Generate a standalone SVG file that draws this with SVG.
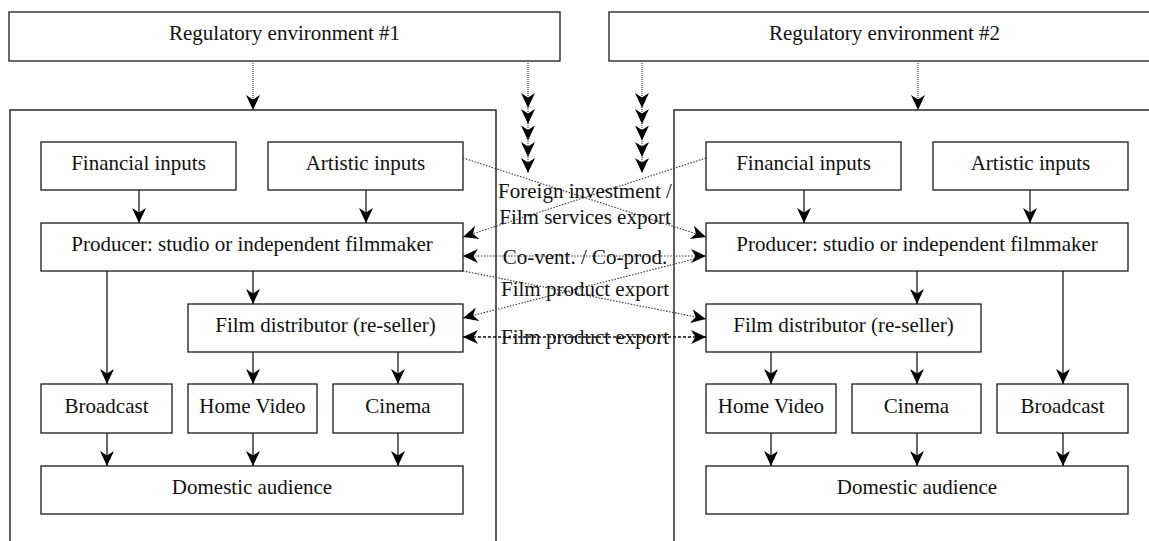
<svg xmlns="http://www.w3.org/2000/svg" width="1149" height="541" viewBox="0 0 1149 541">
  <style>
    .box { fill: #fff; stroke: #1a1a1a; stroke-width: 1.3; }
    .frame { fill: none; stroke: #2a2a2a; stroke-width: 1.5; }
    .lbl { font-family: 'Liberation Serif', 'Times New Roman', Times, 'DejaVu Serif', serif; font-size: 21px; fill: #111; text-anchor: middle; }
    .flow { fill: none; stroke: #1a1a1a; stroke-width: 1.3; marker-end: url(#ah); }
    .reg { fill: none; stroke: #444; stroke-width: 1.2; stroke-dasharray: 1 1; marker-end: url(#ah); }
    .chain { fill: none; stroke: #444; stroke-width: 1.2; stroke-dasharray: 1 1; marker-mid: url(#ah); marker-end: url(#ah); }
    .trade { fill: none; stroke: #333; stroke-width: 1.1; stroke-dasharray: 1.5 1.5; marker-end: url(#ah); }
    .both { marker-start: url(#ahs); }
    .heavy { stroke: #111; stroke-width: 1.6; stroke-dasharray: 3 2; }
  </style>
  <defs>
    <marker id="ah" markerUnits="userSpaceOnUse" markerWidth="16" markerHeight="16" viewBox="0 0 16 16" refX="15" refY="7.5" orient="auto">
      <path d="M0,0.5 L15,7.5 L0,14.5 L4.5,7.5 z" fill="#000"/>
    </marker>
    <marker id="ahs" markerUnits="userSpaceOnUse" markerWidth="16" markerHeight="16" viewBox="0 0 16 16" refX="15" refY="7.5" orient="auto-start-reverse">
      <path d="M0,0.5 L15,7.5 L0,14.5 L4.5,7.5 z" fill="#000"/>
    </marker>
  </defs>

  <!-- country frames (run past the page edge) -->
  <g id="frame-1"><rect class="frame" x="10" y="110" width="486" height="460"/></g>
  <g id="frame-2"><rect class="frame" x="674" y="110" width="486" height="460"/></g>

  <!-- regulatory environments -->
  <g id="reg-1"><rect class="box" x="9" y="12" width="551" height="49"/><text class="lbl" x="284.5" y="39.5">Regulatory environment #1</text></g>
  <g id="reg-2"><rect class="box" x="609" y="12" width="551" height="49"/><text class="lbl" x="884.5" y="39.5">Regulatory environment #2</text></g>

  <!-- country 1 -->
  <g id="fin-1"><rect class="box" x="41" y="142" width="195" height="48"/><text class="lbl" x="138.5" y="169.5">Financial inputs</text></g>
  <g id="art-1"><rect class="box" x="268" y="142" width="195" height="48"/><text class="lbl" x="365.5" y="169.5">Artistic inputs</text></g>
  <g id="prod-1"><rect class="box" x="41" y="223" width="422" height="48"/><text class="lbl" x="252" y="250.5">Producer: studio or independent filmmaker</text></g>
  <g id="dist-1"><rect class="box" x="188" y="304" width="275" height="48"/><text class="lbl" x="325.5" y="331.5">Film distributor (re-seller)</text></g>
  <g id="bc-1"><rect class="box" x="41" y="384" width="131" height="49"/><text class="lbl" x="106.5" y="412.5">Broadcast</text></g>
  <g id="hv-1"><rect class="box" x="188" y="384" width="129" height="49"/><text class="lbl" x="252.5" y="412.5">Home Video</text></g>
  <g id="cin-1"><rect class="box" x="333" y="384" width="130" height="49"/><text class="lbl" x="398" y="412.5">Cinema</text></g>
  <g id="aud-1"><rect class="box" x="41" y="466" width="422" height="48"/><text class="lbl" x="252" y="493.5">Domestic audience</text></g>

  <!-- country 2 -->
  <g id="fin-2"><rect class="box" x="706" y="142" width="195" height="48"/><text class="lbl" x="803.5" y="169.5">Financial inputs</text></g>
  <g id="art-2"><rect class="box" x="933" y="142" width="195" height="48"/><text class="lbl" x="1030.5" y="169.5">Artistic inputs</text></g>
  <g id="prod-2"><rect class="box" x="706" y="223" width="422" height="48"/><text class="lbl" x="917" y="250.5">Producer: studio or independent filmmaker</text></g>
  <g id="dist-2"><rect class="box" x="706" y="304" width="275" height="48"/><text class="lbl" x="843.5" y="331.5">Film distributor (re-seller)</text></g>
  <g id="hv-2"><rect class="box" x="706" y="384" width="130" height="49"/><text class="lbl" x="771" y="412.5">Home Video</text></g>
  <g id="cin-2"><rect class="box" x="852" y="384" width="129" height="49"/><text class="lbl" x="916.5" y="412.5">Cinema</text></g>
  <g id="bc-2"><rect class="box" x="997" y="384" width="131" height="49"/><text class="lbl" x="1062.5" y="412.5">Broadcast</text></g>
  <g id="aud-2"><rect class="box" x="706" y="466" width="422" height="48"/><text class="lbl" x="917" y="493.5">Domestic audience</text></g>

  <g id="connectors">
    <!-- regulation -->
    <path class="reg" d="M253,61 V110"/>
    <path class="reg" d="M918,61 V110"/>
    <path class="chain" d="M528,61 V108 V124 V140.5 V157 V173"/>
    <path class="chain" d="M642,61 V108 V124 V140.5 V157 V173"/>

    <!-- country 1 flows -->
    <path class="flow" d="M139,190 V223"/>
    <path class="flow" d="M366,190 V223"/>
    <path class="flow" d="M107,271 V384"/>
    <path class="flow" d="M253,271 V304"/>
    <path class="flow" d="M253,352 V384"/>
    <path class="flow" d="M398,352 V384"/>
    <path class="flow" d="M107,433 V466"/>
    <path class="flow" d="M253,433 V466"/>
    <path class="flow" d="M398,433 V466"/>

    <!-- country 2 flows -->
    <path class="flow" d="M804,190 V223"/>
    <path class="flow" d="M1030,190 V223"/>
    <path class="flow" d="M917,271 V304"/>
    <path class="flow" d="M1063,271 V384"/>
    <path class="flow" d="M771,352 V384"/>
    <path class="flow" d="M917,352 V384"/>
    <path class="flow" d="M771,433 V466"/>
    <path class="flow" d="M917,433 V466"/>
    <path class="flow" d="M1063,433 V466"/>

    <!-- cross-border trade -->
    <path class="trade" d="M463,158 L706,237"/>
    <path class="trade" d="M706,158 L463,237"/>
    <path class="trade both" d="M463,256 H706"/>
    <path class="trade" d="M463,271 L706,319"/>
    <path class="trade" d="M706,256 L463,318"/>
    <path class="trade both heavy" d="M463,337 H706"/>
  </g>

  <g id="trade-labels">
    <text class="lbl" x="585" y="198">Foreign investment /</text>
    <text class="lbl" x="585" y="224">Film services export</text>
    <text class="lbl" x="585" y="264">Co-vent. / Co-prod.</text>
    <text class="lbl" x="585" y="296">Film product export</text>
    <text class="lbl" x="585" y="344">Film product export</text>
  </g>
</svg>
